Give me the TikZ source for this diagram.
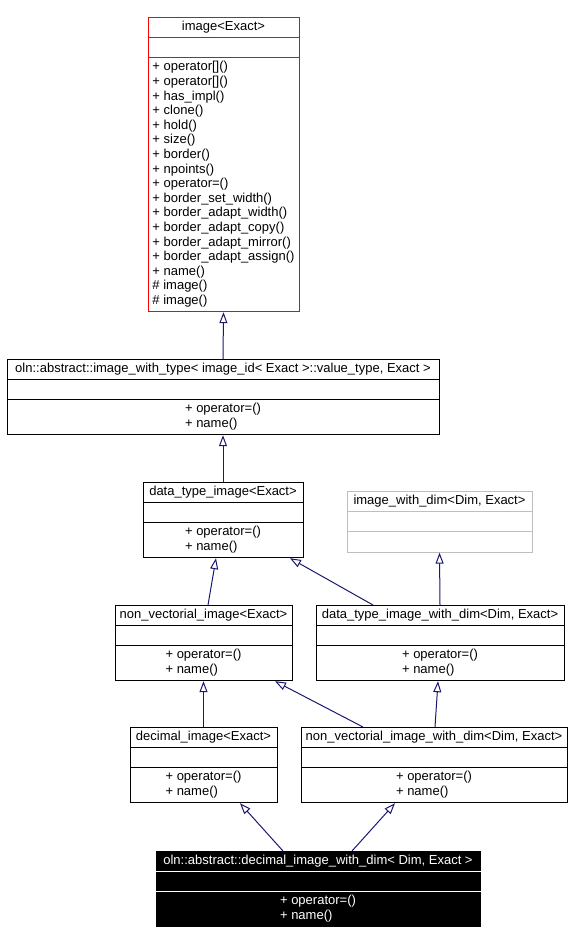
\documentclass[tikz,border=0pt]{standalone}
\usepackage{fontspec}
\setmainfont{Liberation Sans}
\usetikzlibrary{shapes.multipart,arrows.meta}
\definecolor{navy}{HTML}{191970}

\begin{document}
\begin{tikzpicture}[x=1pt,y=-1pt,
	cls/.style={draw, rectangle split, rectangle split parts=3, align=left, anchor=north,
		inner xsep=1pt, inner ysep=2.3pt, line width=1pt, font=\fontsize{13}{14.6}\selectfont},
	inherit/.style={draw=navy, line width=1pt, -{Triangle[open, length=11pt, width=8pt]}}]
		\useasboundingbox (0,0) rectangle (572,942);
		% classes
		\node[cls, draw=red, minimum width=151pt] (img) at (223.5,17) {\strut image<Exact>
			\nodepart{two}\strut
			\nodepart{three}\strut+ operator[]()\\\strut+ operator[]()\\\strut+ has\_impl()\\\strut+ clone()\\
			\strut+ hold()\\\strut+ size()\\\strut+ border()\\\strut+ npoints()\\\strut+ operator=()\\
			\strut+ border\_set\_width()\\\strut+ border\_adapt\_width()\\\strut+ border\_adapt\_copy()\\
			\strut+ border\_adapt\_mirror()\\\strut+ border\_adapt\_assign()\\\strut+ name()\\
			\strut\# image()\\\strut\# image()};
		\node[cls, minimum width=432pt] (iwt) at (223,359) {\strut oln::abstract::image\_with\_type< image\_id< Exact >::value\_type, Exact >
			\nodepart{two}\strut
			\nodepart{three}\strut+ operator=()\\\strut+ name()};
		\node[cls, minimum width=160pt] (dti) at (223,482) {\strut data\_type\_image<Exact>
			\nodepart{two}\strut
			\nodepart{three}\strut+ operator=()\\\strut+ name()};
		\node[cls, draw=gray!50, minimum width=185pt] (iwd) at (439.5,491) {\strut image\_with\_dim<Dim, Exact>
			\nodepart{two}\strut
			\nodepart{three}\strut};
		\node[cls, minimum width=177pt] (nvi) at (203.5,605) {\strut non\_vectorial\_image<Exact>
			\nodepart{two}\strut
			\nodepart{three}\strut+ operator=()\\\strut+ name()};
		\node[cls, minimum width=248pt] (dtiwd) at (440,605) {\strut data\_type\_image\_with\_dim<Dim, Exact>
			\nodepart{two}\strut
			\nodepart{three}\strut+ operator=()\\\strut+ name()};
		\node[cls, minimum width=147pt] (dec) at (203.5,727) {\strut decimal\_image<Exact>
			\nodepart{two}\strut
			\nodepart{three}\strut+ operator=()\\\strut+ name()};
		\node[cls, minimum width=266pt] (nviwd) at (434,727) {\strut non\_vectorial\_image\_with\_dim<Dim, Exact>
			\nodepart{two}\strut
			\nodepart{three}\strut+ operator=()\\\strut+ name()};
		\node[cls, fill=black, text=white, minimum width=324pt] (diwd) at (318,851) {\strut oln::abstract::decimal\_image\_with\_dim< Dim, Exact >
			\nodepart{two}\strut
			\nodepart{three}\strut+ operator=()\\\strut+ name()};
		\draw[white, line width=1pt] (diwd.text split west) -- (diwd.text split east);
		\draw[white, line width=1pt] (diwd.two split west) -- (diwd.two split east);
		% inheritance
		\draw[inherit] (iwt.north) -- (img.south);
		\draw[inherit] (dti.north) -- (iwt.south);
		\draw[inherit] ([xshift=4.5pt]nvi.north) -- ([xshift=-7pt]dti.south);
		\draw[inherit] ([xshift=-67pt]dtiwd.north) -- ([xshift=67pt]dti.south);
		\draw[inherit] (dtiwd.north) -- (iwd.south);
		\draw[inherit] (dec.north) -- (nvi.south);
		\draw[inherit] ([xshift=-71pt]nviwd.north) -- ([xshift=71.5pt]nvi.south);
		\draw[inherit] ([xshift=1pt]nviwd.north) -- ([xshift=-2pt]dtiwd.south);
		\draw[inherit] ([xshift=-35pt]diwd.north) -- ([xshift=36.5pt]dec.south);
		\draw[inherit] ([xshift=34pt]diwd.north) -- ([xshift=-39pt]nviwd.south);
	\end{tikzpicture}
\end{document}
